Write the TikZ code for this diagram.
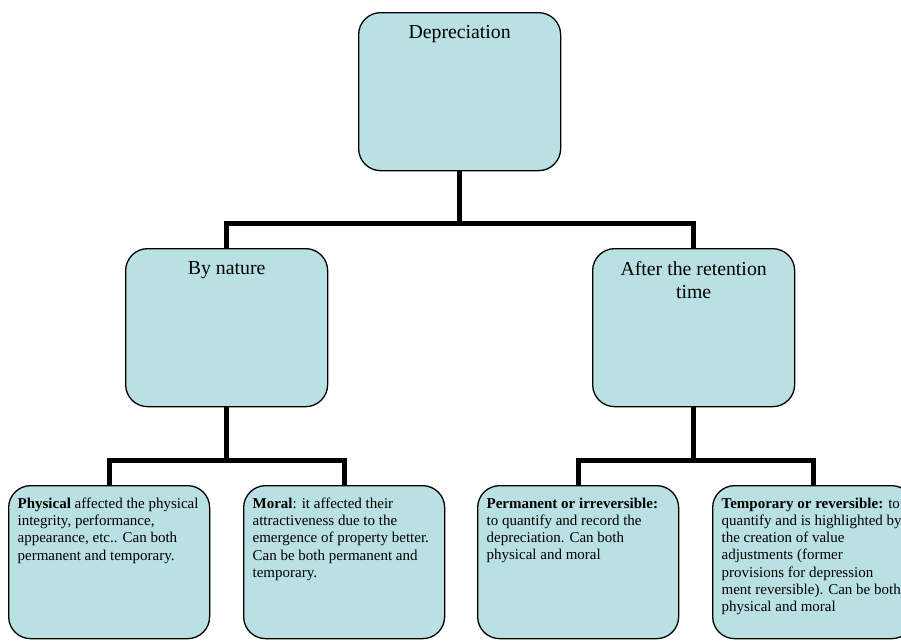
\documentclass[tikz,border=0pt]{standalone}
\usepackage{fontspec}
\setmainfont{Liberation Serif}
\usepackage{tikz}
\usetikzlibrary{positioning}

\definecolor{boxfill}{RGB}{185,224,227}

\newcommand{\headtext}[1]{\parbox[c][158pt][t]{202pt}{\fontsize{19.8}{22.8}\selectfont\centering\vspace*{13pt}#1\par}}
\newcommand{\leaftext}[1]{\parbox[c][153pt][t]{201pt}{\vspace*{12pt}\hspace*{9pt}\parbox[t]{190pt}{\fontsize{15}{17.3}\selectfont\raggedright #1\par}}}

\tikzset{
  box/.style={draw, line width=1.3pt, rounded corners=22pt, fill=boxfill, inner sep=0pt, anchor=north west},
  conn/.style={line width=5pt}
}

\begin{document}
\begin{tikzpicture}[x=1pt,y=-1pt]
\clip (0,0) rectangle (901,640);

\node[box] (dep) at (358,12) {\headtext{Depreciation}};
\node[box] (nat) at (125,248) {\headtext{By nature}};
\node[box] (ret) at (592,248) {\headtext{After the retention\\time}};

\node[box] (phys) at (8,485) {\leaftext{\textbf{Physical} affected the physical\\integrity, performance,\\appearance, etc.. Can both\\permanent and temporary.}};
\node[box] (moral) at (243,485) {\leaftext{\textbf{Moral}: it affected their\\attractiveness due to the\\emergence of property better.\\Can be both permanent and\\temporary.}};
\node[box] (perm) at (477,485) {\leaftext{\textbf{Permanent or irreversible:}\\to quantify and record the\\depreciation. Can both\\physical and moral}};
\node[box] (temp) at (712,485) {\leaftext{\textbf{Temporary or reversible:} to\\quantify and is highlighted by\\the creation of value\\adjustments (former\\provisions for depression\\ment reversible). Can be both\\physical and moral}};

% tree lines
\draw[conn] (dep.south) -- ++(0,52) coordinate (j0);
\foreach \n in {nat,ret}{
  \draw[conn] (j0) -| (\n.north);
}
\draw[conn] (nat.south) -- ++(0,53) coordinate (j1);
\foreach \n in {phys,moral}{
  \draw[conn] (j1) -| (\n.north);
}
\draw[conn] (ret.south) -- ++(0,53) coordinate (j2);
\foreach \n in {perm,temp}{
  \draw[conn] (j2) -| (\n.north);
}
\end{tikzpicture}
\end{document}
